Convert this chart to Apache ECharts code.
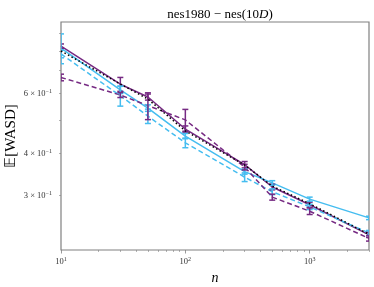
<!DOCTYPE html>
<html><head><meta charset="utf-8">
<script src="https://cdn.jsdelivr.net/npm/echarts@6/dist/echarts.min.js"></script>
<style>html,body{margin:0;padding:0;background:#fff}#c{width:374px;height:287px}</style>
</head><body><div id="c"></div>
<script>
const nValues = [10, 30, 50, 100, 300, 500, 1000, 3000];
const purpleSolid     = [0.826, 0.638, 0.585, 0.471, 0.370, 0.318, 0.282, 0.230];
const purpleSolidErr  = [0.012, 0.030, 0.012, 0.010, 0.008, 0.006, 0.005, 0.004];
const cyanSolid       = [0.815, 0.614, 0.543, 0.449, 0.353, 0.327, 0.293, 0.258];
const cyanSolidErr    = [0.082, 0.015, 0.012, 0.008, 0.006, 0.005, 0.004, 0.003];
const cyanDashed      = [0.783, 0.590, 0.514, 0.429, 0.340, 0.308, 0.278, 0.233];
const cyanDashedErr   = [0.020, 0.040, 0.025, 0.014, 0.010, 0.006, 0.005, 0.004];
const purpleDashed    = [0.668, 0.593, 0.552, 0.501, 0.364, 0.297, 0.270, 0.2245];
const purpleDashedErr = [0.015, 0.010, 0.050, 0.037, 0.007, 0.006, 0.006, 0.004];
const blackDotted     = [0.799, 0.639, 0.577, 0.465, 0.369, 0.320, 0.284, 0.231];

const xMin = 10, xMax = 3000;
const yMin = 0.2076, yMax = 0.9724;
const xMajorTicks = [10, 100, 1000];
const xMinorTicks = [20,30,40,50,60,70,80,90,200,300,400,500,600,700,800,900,2000,3000];
const yTicks = [0.3,0.4,0.5,0.6,0.7,0.8,0.9];
const yLabelTicks = [0.3, 0.4, 0.6];

const PURPLE = '#762a83', CYAN = '#45bdf0';
const lg = Math.log10;
const serif = 'Liberation Serif';

function pairs(ys){ return nValues.map((n,i)=>[n, ys[i]]); }
function errData(ys, es){ return nValues.map((n,i)=>[n, ys[i], es[i]]); }
function errSeries(ys, es, color){
  return {
    type: 'custom', xAxisIndex: 0, yAxisIndex: 0, clip: true, z: 3,
    encode: {x: 0, y: 1},
    data: errData(ys, es),
    renderItem: function(params, api){
      const n = api.value(0), v = api.value(1), e = api.value(2);
      const top = api.coord([n, v + e]);
      const bot = api.coord([n, v - e]);
      const cw = 3;
      const st = {stroke: color, lineWidth: 1.5, fill: null};
      return {type: 'group', children: [
        {type: 'line', shape: {x1: top[0], y1: top[1], x2: bot[0], y2: bot[1]}, style: st},
        {type: 'line', shape: {x1: top[0]-cw, y1: top[1], x2: top[0]+cw, y2: top[1]}, style: st},
        {type: 'line', shape: {x1: bot[0]-cw, y1: bot[1], x2: bot[0]+cw, y2: bot[1]}, style: st}
      ]};
    }
  };
}
function lineSeries(ys, color, type, z){
  return {type: 'line', xAxisIndex: 0, yAxisIndex: 0, data: pairs(ys), symbol: 'none', z: z,
    lineStyle: {color: color, width: 1.5, type: type}};
}

const chart = echarts.init(document.getElementById('c'), null, {renderer: 'canvas'});
const gridRect = {left: 61, top: 22, width: 308, height: 228};
chart.setOption({
  animation: false,
  backgroundColor: '#fff',
  title: {
    text: 'nes1980 − nes(10{i|D})', left: 215, top: 3, textAlign: 'center',
    textStyle: {fontFamily: serif, fontSize: 13, fontWeight: 'normal', color: '#000',
      rich: {i: {fontFamily: serif, fontSize: 13, fontStyle: 'italic', color: '#000'}}}
  },
  grid: Object.assign({show: true, borderColor: '#808080', borderWidth: 1.2, backgroundColor: 'transparent',
    containLabel: false, outerBoundsMode: 'none'}, gridRect),
  xAxis: [
    {type: 'log', min: xMin, max: xMax, axisLine: {show: false}, axisTick: {show: false}, axisLabel: {show: false}, splitLine: {show: false}},
    {type: 'value', min: lg(xMin), max: lg(xMax), position: 'bottom',
      axisLine: {show: false}, splitLine: {show: false},
      axisTick: {show: true, customValues: xMajorTicks.map(lg), length: 3.5, lineStyle: {color: '#808080', width: 0.8}},
      axisLabel: {show: true, customValues: xMajorTicks.map(lg), margin: 6, color: '#333',
        formatter: v => '{b|10}{s|' + Math.round(v) + '}',
        rich: {b: {fontFamily: serif, fontSize: 8.5, lineHeight: 10, verticalAlign: 'bottom', color: '#333'},
               s: {fontFamily: serif, fontSize: 6, lineHeight: 6, verticalAlign: 'top', color: '#333'}}},
      name: 'n', nameLocation: 'middle', nameGap: 17,
      nameTextStyle: {fontFamily: serif, fontSize: 14, fontStyle: 'italic', color: '#000'}},
    {type: 'value', min: lg(xMin), max: lg(xMax), position: 'bottom',
      axisLine: {show: false}, splitLine: {show: false}, axisLabel: {show: false},
      axisTick: {show: true, customValues: xMinorTicks.map(lg), length: 2, lineStyle: {color: '#808080', width: 0.6}}}
  ],
  yAxis: [
    {type: 'log', min: yMin, max: yMax, axisLine: {show: false}, axisTick: {show: false}, axisLabel: {show: false}, splitLine: {show: false},
      name: '𝔼[WASD]', nameLocation: 'middle', nameGap: 42, nameRotate: 90,
      nameTextStyle: {fontFamily: serif, fontSize: 15, color: '#000'}},
    {type: 'value', min: lg(yMin), max: lg(yMax), position: 'left',
      axisLine: {show: false}, splitLine: {show: false},
      axisTick: {show: true, customValues: yTicks.map(lg), length: 2, lineStyle: {color: '#808080', width: 0.6}},
      axisLabel: {show: true, customValues: yLabelTicks.map(lg), margin: 9, color: '#333',
        formatter: v => '{b|' + Math.round(Math.pow(10, v) * 10) + ' × 10}{s|−1}',
        rich: {b: {fontFamily: serif, fontSize: 8.5, lineHeight: 10, verticalAlign: 'bottom', color: '#333'},
               s: {fontFamily: serif, fontSize: 6, lineHeight: 6, verticalAlign: 'top', color: '#333'}}}}
  ],
  series: [
    lineSeries(purpleSolid, PURPLE, 'solid', 2),
    lineSeries(cyanSolid, CYAN, 'solid', 2),
    lineSeries(cyanDashed, CYAN, [5, 3], 2),
    lineSeries(purpleDashed, PURPLE, [5, 3], 2),
    errSeries(purpleSolid, purpleSolidErr, PURPLE),
    errSeries(cyanSolid, cyanSolidErr, CYAN),
    errSeries(cyanDashed, cyanDashedErr, CYAN),
    errSeries(purpleDashed, purpleDashedErr, PURPLE),
    lineSeries(blackDotted, '#000', [1.5, 2.5], 4)
  ]
});
</script></body></html>
